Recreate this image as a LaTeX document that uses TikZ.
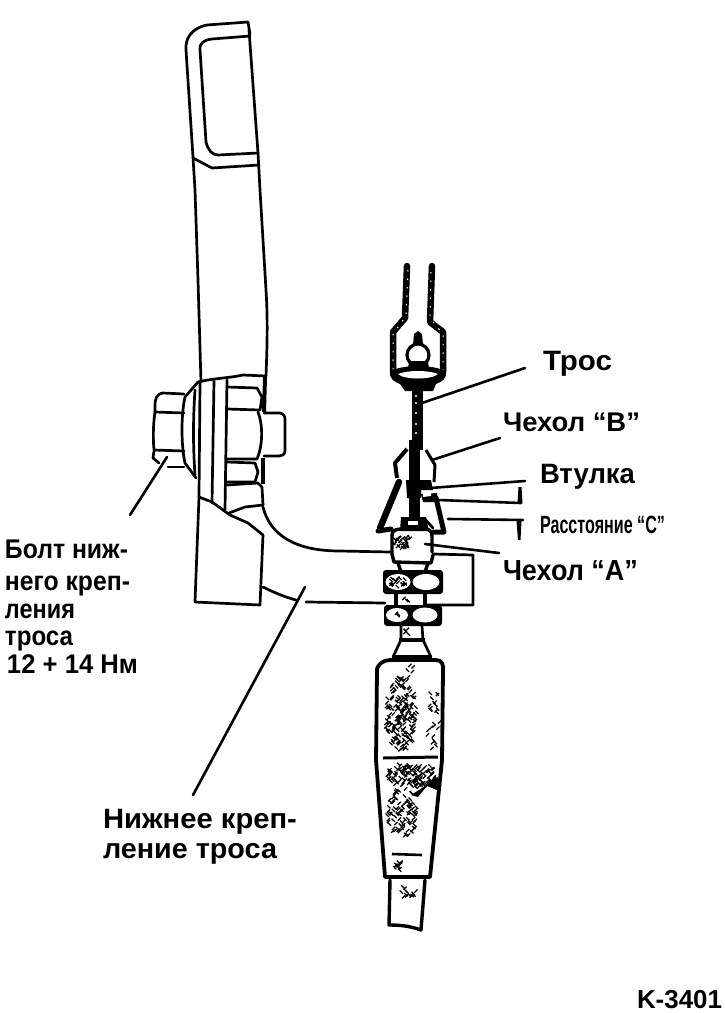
\documentclass[tikz,border=0pt]{standalone}
\usepackage{fontspec}
\usepackage{graphicx}
\setmainfont{Liberation Sans}
\newcommand{\lbl}[4]{\node[lab,font=\fontsize{#1pt}{#1pt}\selectfont\bfseries] at (#3) {\resizebox{#2pt}{\height}{#4}};}
\newcommand{\stip}[5]{%
  \foreach \k in {1,...,#5}{%
    \pgfmathsetmacro{\aa}{rnd*360}\pgfmathsetmacro{\rr}{sqrt(rnd)}%
    \pgfmathsetmacro{\px}{#1+#3*\rr*cos(\aa)}\pgfmathsetmacro{\py}{#2+#4*\rr*sin(\aa)}%
    \pgfmathsetmacro{\dd}{rnd>0.5?1:-1}%
    \draw[line width=1.25pt,line cap=butt] (\px-1.6,\py-1.6*\dd) -- (\px+1.6,\py+1.6*\dd);}}
\tikzset{
  x=1pt,y=-1pt,
  lab/.style={anchor=base west,inner sep=0pt,outer sep=0pt,text=black},
  thin part/.style={line width=2.7pt,line cap=round,line join=round},
  med part/.style={line width=3.4pt,line cap=round,line join=round},
  thick part/.style={line width=6.5pt,line cap=round,line join=round},
  speck/.style={white,line width=1pt,dash pattern=on 1.5pt off 7pt},
  leader/.style={line width=2.6pt,line cap=round},
}
\begin{document}
\begin{tikzpicture}
\useasboundingbox (0,0) rectangle (725,1013);
\fill[white] (0,0) rectangle (725,1013);
\pgfmathsetseed{4242}
% --- bracket plate
\draw[thin part] (250,34) -- (248,22) -- (207,25) .. controls (192,28) and (185,38) .. (186,50) -- (193,157) -- (195,190) -- (198,280) -- (201,382);
\draw[thin part] (249,30) -- (258,153) -- (260,190) -- (266,290) .. controls (268,320) and (267,350) .. (266,376);
\draw[thin part] (250,36) -- (212,39) .. controls (203,40) and (199,44) .. (200,50) -- (206,142) .. controls (208,150) and (212,155) .. (218,155) -- (258,153);
\draw[thin part] (193,158) -- (212,168) -- (259,165);
% washers
\draw[thin part] (198,382) .. controls (215,378) and (230,378) .. (243,375) -- (266,376);
\draw[thin part] (198,382) -- (185,397) .. controls (181,415) and (181,445) .. (185,463) -- (196,478);
\draw[thin part] (195,390) .. controls (193,420) and (193,445) .. (195,475);
\draw[thin part] (200,383) -- (199,497);
\draw[thin part] (214,381) -- (212,503);
\draw[thin part] (227,380) -- (225,510);
% nut
\draw[thin part] (227,387) -- (257,388) -- (262,397) -- (260,410) -- (227,409);
\draw[thin part] (258,412) .. controls (263,425) and (263,445) .. (257,459) -- (227,459);
\draw[thin part] (227,462) -- (255,463) -- (258,472) -- (255,482) -- (227,482);
\draw[thin part] (227,485) -- (258,483) -- (262,487) -- (263,505);
\draw[line width=4pt] (265,377) -- (264,412);
\draw[line width=4.5pt] (263,458) -- (263,484);
\draw[thin part] (264,413) -- (280,413) .. controls (284,414) and (285,416) .. (285,420) -- (285,450) .. controls (285,455) and (282,456) .. (279,456) -- (264,456);
% bolt head
\draw[thin part] (184,394) -- (163,393) .. controls (156,394) and (155,400) .. (155,405) -- (155,412) -- (184,413);
\draw[thin part] (155,412) .. controls (153,425) and (153,440) .. (154,450) -- (184,451);
\draw[thin part] (154,451) -- (153,458) -- (159,463);
\draw[thin part] (168,467) -- (184,467);
% bracket
\draw[thin part] (199,497) -- (195,602) -- (260,605) -- (263,535);
\draw[thin part] (199,497) -- (212,502) -- (230,515) -- (248,523) -- (263,535);
\draw[thin part] (229,513) -- (245,507) -- (263,505);
\draw[thin part] (263,507) .. controls (270,535) and (295,551) .. (340,551) -- (390,552);
\draw[thin part] (433,554) -- (473,555) -- (473,605) -- (427,605);
\draw[thin part] (263,587) .. controls (275,593) and (285,597) .. (296,600);
\draw[thin part] (306,602) -- (385,603);
% clevis
\draw[thick part] (407,266) -- (405,318) -- (393,332) -- (393,372);
\draw[thick part] (432,266) -- (430,322) -- (443,332) -- (443,372);
\draw[speck] (408,270) -- (406,316) -- (393,334) -- (393,370);
\draw[speck] (431,272) -- (430,318) -- (443,334) -- (443,370);
\fill (390,372) .. controls (400,364) and (436,364) .. (446,372) .. controls (447,378) and (442,382) .. (436,384) -- (433,391) -- (405,391) -- (400,384) .. controls (394,382) and (389,378) .. (390,372) -- cycle;
\fill[white] (398,374) .. controls (408,370) and (428,370) .. (438,374) .. controls (432,380) and (404,380) .. (398,374) -- cycle;
\draw[line width=3.2pt] (418,355) circle (11);
\fill (414,334) -- (418,331) -- (422,334) -- (423,345) -- (413,345) -- cycle;
\fill (408,369) -- (409,361) -- (428,361) -- (429,369) -- cycle;
\fill (412,390) rectangle (423,450);
\foreach \yy in {396,403,413,424,433} {\fill[white] (416,\yy) circle (1.1);}
% boot B
\draw[line width=4pt,line join=round] (407,449) -- (395,463) -- (397,478);
\draw[line width=6.5pt,line cap=round] (399,482) -- (380,528);
\draw[line width=5pt,line cap=round] (378,531) -- (391,529);
\draw[line width=3pt,line join=round] (426,450) -- (435,465) -- (434,482);
\fill (409,440) rectangle (420,520);
\fill (406,480) -- (431,480) -- (433,490) -- (421,490) -- (421,498) -- (407,498) -- cycle;
\fill (421,494) -- (437,493) -- (438,502) -- (423,502) -- cycle;
\fill[white] (423,491) -- (431,491) -- (431,496) -- (423,497) -- cycle;
\draw[line width=5pt,line cap=round,line join=round] (436,498) -- (444,532) -- (433,532);
\draw[thin part] (424,518) -- (433,528);
% rubber A
\fill (401,517) -- (426,517) -- (427,522) -- (429,531) -- (400,531) -- cycle;
\fill[white] (408,521) rectangle (418,525);
\draw[med part] (392,535) .. controls (392,530) and (397,529) .. (402,529) -- (425,529) .. controls (430,529) and (432,532) .. (432,536) -- (432,552);
\draw[med part] (392,535) -- (392,554) -- (394,562) -- (431,563) -- (433,555);
\draw[med part] (398,563) -- (401,572);
\draw[med part] (428,563) -- (425,572);
% nuts
\fill[rounded corners=3pt] (383,570) rectangle (443,594);
\fill[white] (398,582) ellipse (12.5 and 8);
\fill[white] (426,582) ellipse (13.5 and 8);
\draw[med part] (396,594) -- (396,606);
\draw[med part] (425,594) -- (425,606);
\fill[rounded corners=3pt] (384,605) rectangle (442,626);
\fill[white] (397,615) ellipse (11 and 7);
\fill[white] (425,615) ellipse (12.5 and 7.5);
\draw[thin part] (401,626) -- (401,640) -- (393,657);
\draw[thin part] (422,626) -- (423,640) -- (431,657);
\draw[line width=3.5pt] (399,640) -- (425,640);
\draw[line width=5pt] (393,657) -- (431,657);
% handle
\draw[line width=3.8pt,line join=round] (377,672) .. controls (376,665) and (383,660) .. (390,660) -- (436,660) .. controls (442,660) and (444,665) .. (443,672) -- (442,760) -- (430,877) -- (385,877) -- (376,760) -- cycle;
\draw[line width=3pt] (383,758) -- (438,757);
\draw[line width=2.6pt] (392,854) -- (422,855);
\draw[med part] (390,880) -- (389,925) .. controls (400,925) and (410,926) .. (421,930) -- (425,880);
% stippling
\stip{401}{715}{16}{38}{190}
\stip{433}{717}{7}{33}{28}
\stip{410}{672}{5}{7}{5}
\stip{412}{775}{25}{13}{130}
\stip{403}{812}{16}{25}{100}
\stip{398}{866}{5}{5}{12}
\stip{409}{892}{8}{9}{14}
\stip{402}{541}{9}{7}{32}
\stip{398}{582}{9}{5}{22}
\stip{397}{614}{3}{2}{3}
\stip{406}{599}{3}{3}{3}
\stip{407}{632}{4}{3}{5}
\fill (422,788) -- (438,777) -- (441,784) -- (437,790) -- (427,786) -- (418,797) -- (411,795) -- cycle;
% leaders
\coordinate (boltEnd) at (130,515);   \coordinate (boltTip) at (167,457);
\coordinate (mntEnd) at (193,795);    \coordinate (mntTip) at (305,587);
\coordinate (trosTip) at (422,403);   \coordinate (trosEnd) at (525,368);
\coordinate (bTip) at (432,460);      \coordinate (bEnd) at (500,438);
\coordinate (vtTip) at (430,488);     \coordinate (vtEnd) at (525,481);
\coordinate (c1Tip) at (438,500);     \coordinate (c1End) at (521,503);
\coordinate (c2Tip) at (448,519);     \coordinate (c2End) at (523,520);
\coordinate (aTip) at (425,544);      \coordinate (aEnd) at (499,553);
\draw[leader] (boltEnd) -- (boltTip);
\draw[leader] (mntEnd) -- (mntTip);
\draw[leader] (trosTip) -- (trosEnd);
\draw[leader] (bTip) -- (bEnd);
\draw[leader] (vtTip) -- (vtEnd);
\draw[leader] (c1Tip) -- (c1End);
\draw[leader] (c2Tip) -- (c2End);
\draw[leader] (aTip) -- (aEnd);
\fill (518.5,487) -- (521.5,487) -- (522.5,503) -- (517.5,503) -- cycle;
\fill (516.5,521) -- (521.5,521) -- (520.5,540) -- (518,540) -- cycle;
% labels
\lbl{28}{69}{543,370}{Трос}
\lbl{27}{137}{503,431}{Чехол “В”}
\lbl{28}{95}{540,483}{Втулка}
\lbl{25}{125}{540,533}{Расстояние “С”}
\lbl{29}{135}{503,580}{Чехол “А”}
\lbl{27}{123}{5,558}{Болт ниж-}
\lbl{27}{125}{5,590}{него креп-}
\lbl{27}{70}{5,618}{ления}
\lbl{27}{68}{5,645}{троса}
\lbl{27}{131}{7,673}{12 + 14 Нм}
\lbl{28}{194}{103,828}{Нижнее креп-}
\lbl{28}{174}{103,858}{ление троса}
\lbl{26}{85}{637,1008}{K-3401}
\end{tikzpicture}
\end{document}
